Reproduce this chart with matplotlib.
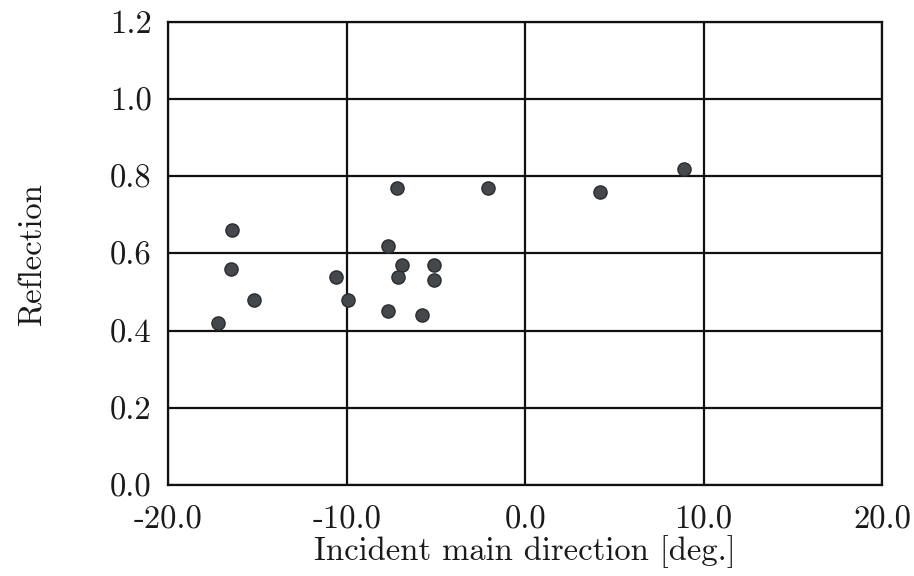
import numpy as np
import matplotlib
matplotlib.use("Agg")
import matplotlib.pyplot as plt

plt.rcParams['font.family'] = ['cmr10', 'DejaVu Serif']
plt.rcParams['axes.unicode_minus'] = False
plt.rcParams['mathtext.fontset'] = 'cm'

# incident main direction [deg.] and measured reflection
direction = np.array([-17.2, -16.4, -16.5, -15.2, -10.6, -9.9, -7.2, -7.7,
                      -6.9, -7.1, -7.7, -5.1, -5.1, -5.8, -2.1, 4.2, 8.9])
reflection = np.array([0.42, 0.66, 0.56, 0.48, 0.54, 0.48, 0.77, 0.62,
                       0.57, 0.54, 0.45, 0.57, 0.53, 0.44, 0.77, 0.76, 0.82])

x_ticks = [-20.0, -10.0, 0.0, 10.0, 20.0]
y_ticks = [0.0, 0.2, 0.4, 0.6, 0.8, 1.0, 1.2]

fig = plt.figure(figsize=(9.14, 5.76), dpi=100)
ax = fig.add_axes([0.184, 0.158, 0.781, 0.804])

ax.scatter(direction, reflection, s=90, color='#44484c', edgecolors='#2a2c2e',
           linewidths=1.0, zorder=3)

ax.set_xlim(-20, 20)
ax.set_ylim(0, 1.2)
ax.set_xticks(x_ticks)
ax.set_yticks(y_ticks)
ax.set_xticklabels(["%.1f" % v for v in x_ticks])
ax.set_yticklabels(["%.1f" % v for v in y_ticks])
ax.tick_params(length=0, labelsize=23.5, colors='#1a1a1a')
ax.tick_params(axis='x', pad=15)
ax.tick_params(axis='y', pad=12)

ax.grid(True, color='#111111', linewidth=1.6)
for sp in ax.spines.values():
    sp.set_color('#111111')
    sp.set_linewidth(1.6)

ax.set_xlabel("Incident main direction [deg.]", fontsize=23.5, labelpad=0, color='#1a1a1a')
ax.set_ylabel("Reflection", fontsize=23.5, labelpad=45, color='#1a1a1a')

fig.savefig("out.png", dpi=100)
